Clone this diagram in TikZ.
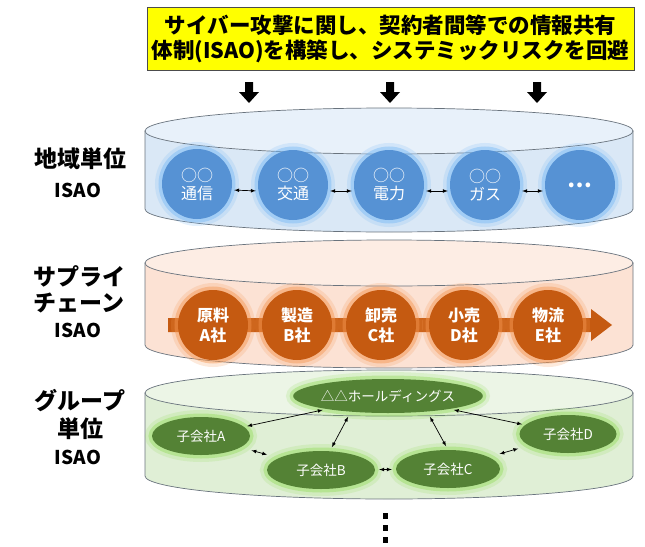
\documentclass[tikz,border=0pt]{standalone}
\usepackage{fontspec}
\setmainfont{Noto Sans CJK JP}
\usepackage{tikz}
\usetikzlibrary{positioning,shapes,arrows}

\definecolor{titleyellow}{RGB}{255,255,0}
\definecolor{cyledge}{RGB}{105,115,125}
\definecolor{cylblue}{RGB}{218,232,246}
\definecolor{cyltopblue}{RGB}{232,241,250}
\definecolor{nodeblue}{RGB}{86,146,212}
\definecolor{glowblue}{RGB}{120,185,245}
\definecolor{cylorange}{RGB}{252,226,212}
\definecolor{cyltoporange}{RGB}{253,237,228}
\definecolor{nodeorange}{RGB}{197,90,17}
\definecolor{gloworange}{RGB}{245,150,80}
\definecolor{cylgreen}{RGB}{224,239,214}
\definecolor{cyltopgreen}{RGB}{236,245,230}
\definecolor{nodegreen}{RGB}{84,130,53}
\definecolor{glowgreen}{RGB}{150,220,95}

\tikzset{
	titlebox/.style={draw=black!70, fill=titleyellow, minimum width=487pt, minimum height=63pt, inner sep=0pt, align=center, font=\bfseries\fontsize{21.5}{25}\selectfont},
	layerlabel/.style={font=\bfseries\fontsize{23}{26}\selectfont},
	isaolabel/.style={font=\bfseries\fontsize{19}{22}\selectfont},
	bluenode/.style={circle, minimum size=70pt, inner sep=0pt, fill=nodeblue, text=white, align=center, font=\fontsize{16}{18}\selectfont,
		preaction={draw=glowblue, line width=14pt, opacity=.2}, preaction={draw=glowblue, line width=7pt, opacity=.45}},
	orangenode/.style={circle, minimum size=70pt, inner sep=0pt, fill=nodeorange, text=white, align=center, font=\bfseries\fontsize{16}{20}\selectfont,
		preaction={draw=gloworange, line width=14pt, opacity=.2}, preaction={draw=gloworange, line width=7pt, opacity=.45}},
	greennode/.style={ellipse, inner sep=0pt, fill=nodegreen, text=white, font=\fontsize{13.5}{16}\selectfont,
		preaction={draw=glowgreen, line width=14pt, opacity=.2}, preaction={draw=glowgreen, line width=7pt, opacity=.45}},
	link/.style={latex-latex, black, line width=.7pt}
}

\begin{document}
\begin{tikzpicture}[x=1pt, y=1pt]

	\useasboundingbox (0,0) rectangle (645,-546);

	\node[titlebox] (goal) at (390.5,-38.5) {サイバー攻撃に関し、契約者間等での情報共有\\体制(ISAO)を構築し、システミックリスクを回避};

	\foreach \ax in {249,390,537}
		\fill[black] (\ax-4,-82) -- (\ax+4,-82) -- (\ax+4,-92) -- (\ax+10,-92) -- (\ax,-103) -- (\ax-10,-92) -- (\ax-4,-92) -- cycle;

	% 地域単位
	\filldraw[fill=cylblue, draw=cyledge, line width=.7pt] (145,-131) -- (145,-209) arc[start angle=180, end angle=360, x radius=244, y radius=23] -- (633,-131) -- cycle;
	\filldraw[fill=cyltopblue, draw=cyledge, line width=.7pt] (389,-131) ellipse [x radius=244, y radius=23];

	\node[layerlabel] (areaname) at (80,-159) {地域単位};
	\node[isaolabel] (areaisao) at (78,-190) {ISAO};

	\node[bluenode] (tel) at (197,-184) {○○\\通信};
	\node[bluenode] (traffic) at (293,-185) {○○\\交通};
	\node[bluenode] (power) at (389,-185) {○○\\電力};
	\node[bluenode] (gas) at (485,-185) {○○\\ガス};
	\node[bluenode, font=\bfseries\fontsize{22}{22}\selectfont] (more) at (580,-185) {…};

	\draw[link, shorten <=2pt, shorten >=2pt] ([yshift=-6pt]tel.east) -- ([yshift=-6pt]traffic.west);
	\draw[link, shorten <=2pt, shorten >=2pt] ([yshift=-6pt]traffic.east) -- ([yshift=-6pt]power.west);
	\draw[link, shorten <=2pt, shorten >=2pt] ([yshift=-6pt]power.east) -- ([yshift=-6pt]gas.west);
	\draw[link, shorten <=2pt, shorten >=2pt] ([yshift=-6pt]gas.east) -- ([yshift=-6pt]more.west);

	% サプライチェーン
	\filldraw[fill=cylorange, draw=cyledge, line width=.7pt] (145,-263) -- (145,-345) arc[start angle=180, end angle=360, x radius=244, y radius=23] -- (633,-263) -- cycle;
	\filldraw[fill=cyltoporange, draw=cyledge, line width=.7pt] (389,-263) ellipse [x radius=244, y radius=23];

	\node[layerlabel] (supplyname) at (79,-276) {サプライ};
	\node[layerlabel] (supplyname2) at (79,-303) {チェーン};
	\node[isaolabel] (supplyisao) at (78,-330) {ISAO};

	\fill[nodeorange] (168,-318) -- (591,-318) -- (591,-309) -- (612,-325) -- (591,-341) -- (591,-332) -- (168,-332) -- cycle;

	\node[orangenode] (rawmat) at (213,-325) {原料\\A社};
	\node[orangenode] (maker) at (297,-325) {製造\\B社};
	\node[orangenode] (whole) at (381,-325) {卸売\\C社};
	\node[orangenode] (retail) at (464,-325) {小売\\D社};
	\node[orangenode] (logi) at (548,-325) {物流\\E社};

	% グループ単位
	\filldraw[fill=cylgreen, draw=cyledge, line width=.7pt] (145,-393) -- (145,-476) arc[start angle=180, end angle=360, x radius=244, y radius=23] -- (633,-393) -- cycle;
	\filldraw[fill=cyltopgreen, draw=cyledge, line width=.7pt] (389,-393) ellipse [x radius=244, y radius=23];

	\node[layerlabel] (groupname) at (80,-401) {グループ};
	\node[layerlabel] (groupname2) at (80,-429) {単位};
	\node[isaolabel] (groupisao) at (78,-457) {ISAO};

	\node[greennode, minimum width=176pt, minimum height=34pt] (hold) at (388,-396) {△△ホールディングス};
	\node[greennode, minimum width=98pt, minimum height=38pt] (subA) at (201,-436) {子会社A};
	\node[greennode, minimum width=108pt, minimum height=38pt] (subB) at (321,-470) {子会社B};
	\node[greennode, minimum width=104pt, minimum height=38pt] (subC) at (448,-469) {子会社C};
	\node[greennode, minimum width=97pt, minimum height=38pt] (subD) at (568,-434) {子会社D};

	\draw[link, shorten <=4pt, shorten >=3pt] (hold) -- (subA);
	\draw[link, shorten <=4pt, shorten >=3pt] (hold) -- (subD);
	\draw[link, shorten <=4pt, shorten >=4pt] ([xshift=-38pt]hold.south) -- ([xshift=9pt]subB.north);
	\draw[link, shorten <=4pt, shorten >=4pt] ([xshift=40pt]hold.south) -- (subC.north);
	\draw[link, shorten <=11pt, shorten >=12pt] (subA) -- (subB);
	\draw[link, shorten <=4pt, shorten >=4pt] (subB) -- (subC);
	\draw[link, shorten <=11pt, shorten >=11pt] (subC) -- (subD);

	\fill[black] (383,-513) rectangle (388,-519);
	\fill[black] (383,-525) rectangle (388,-531);
	\fill[black] (383,-537) rectangle (388,-543);

\end{tikzpicture}
\end{document}
